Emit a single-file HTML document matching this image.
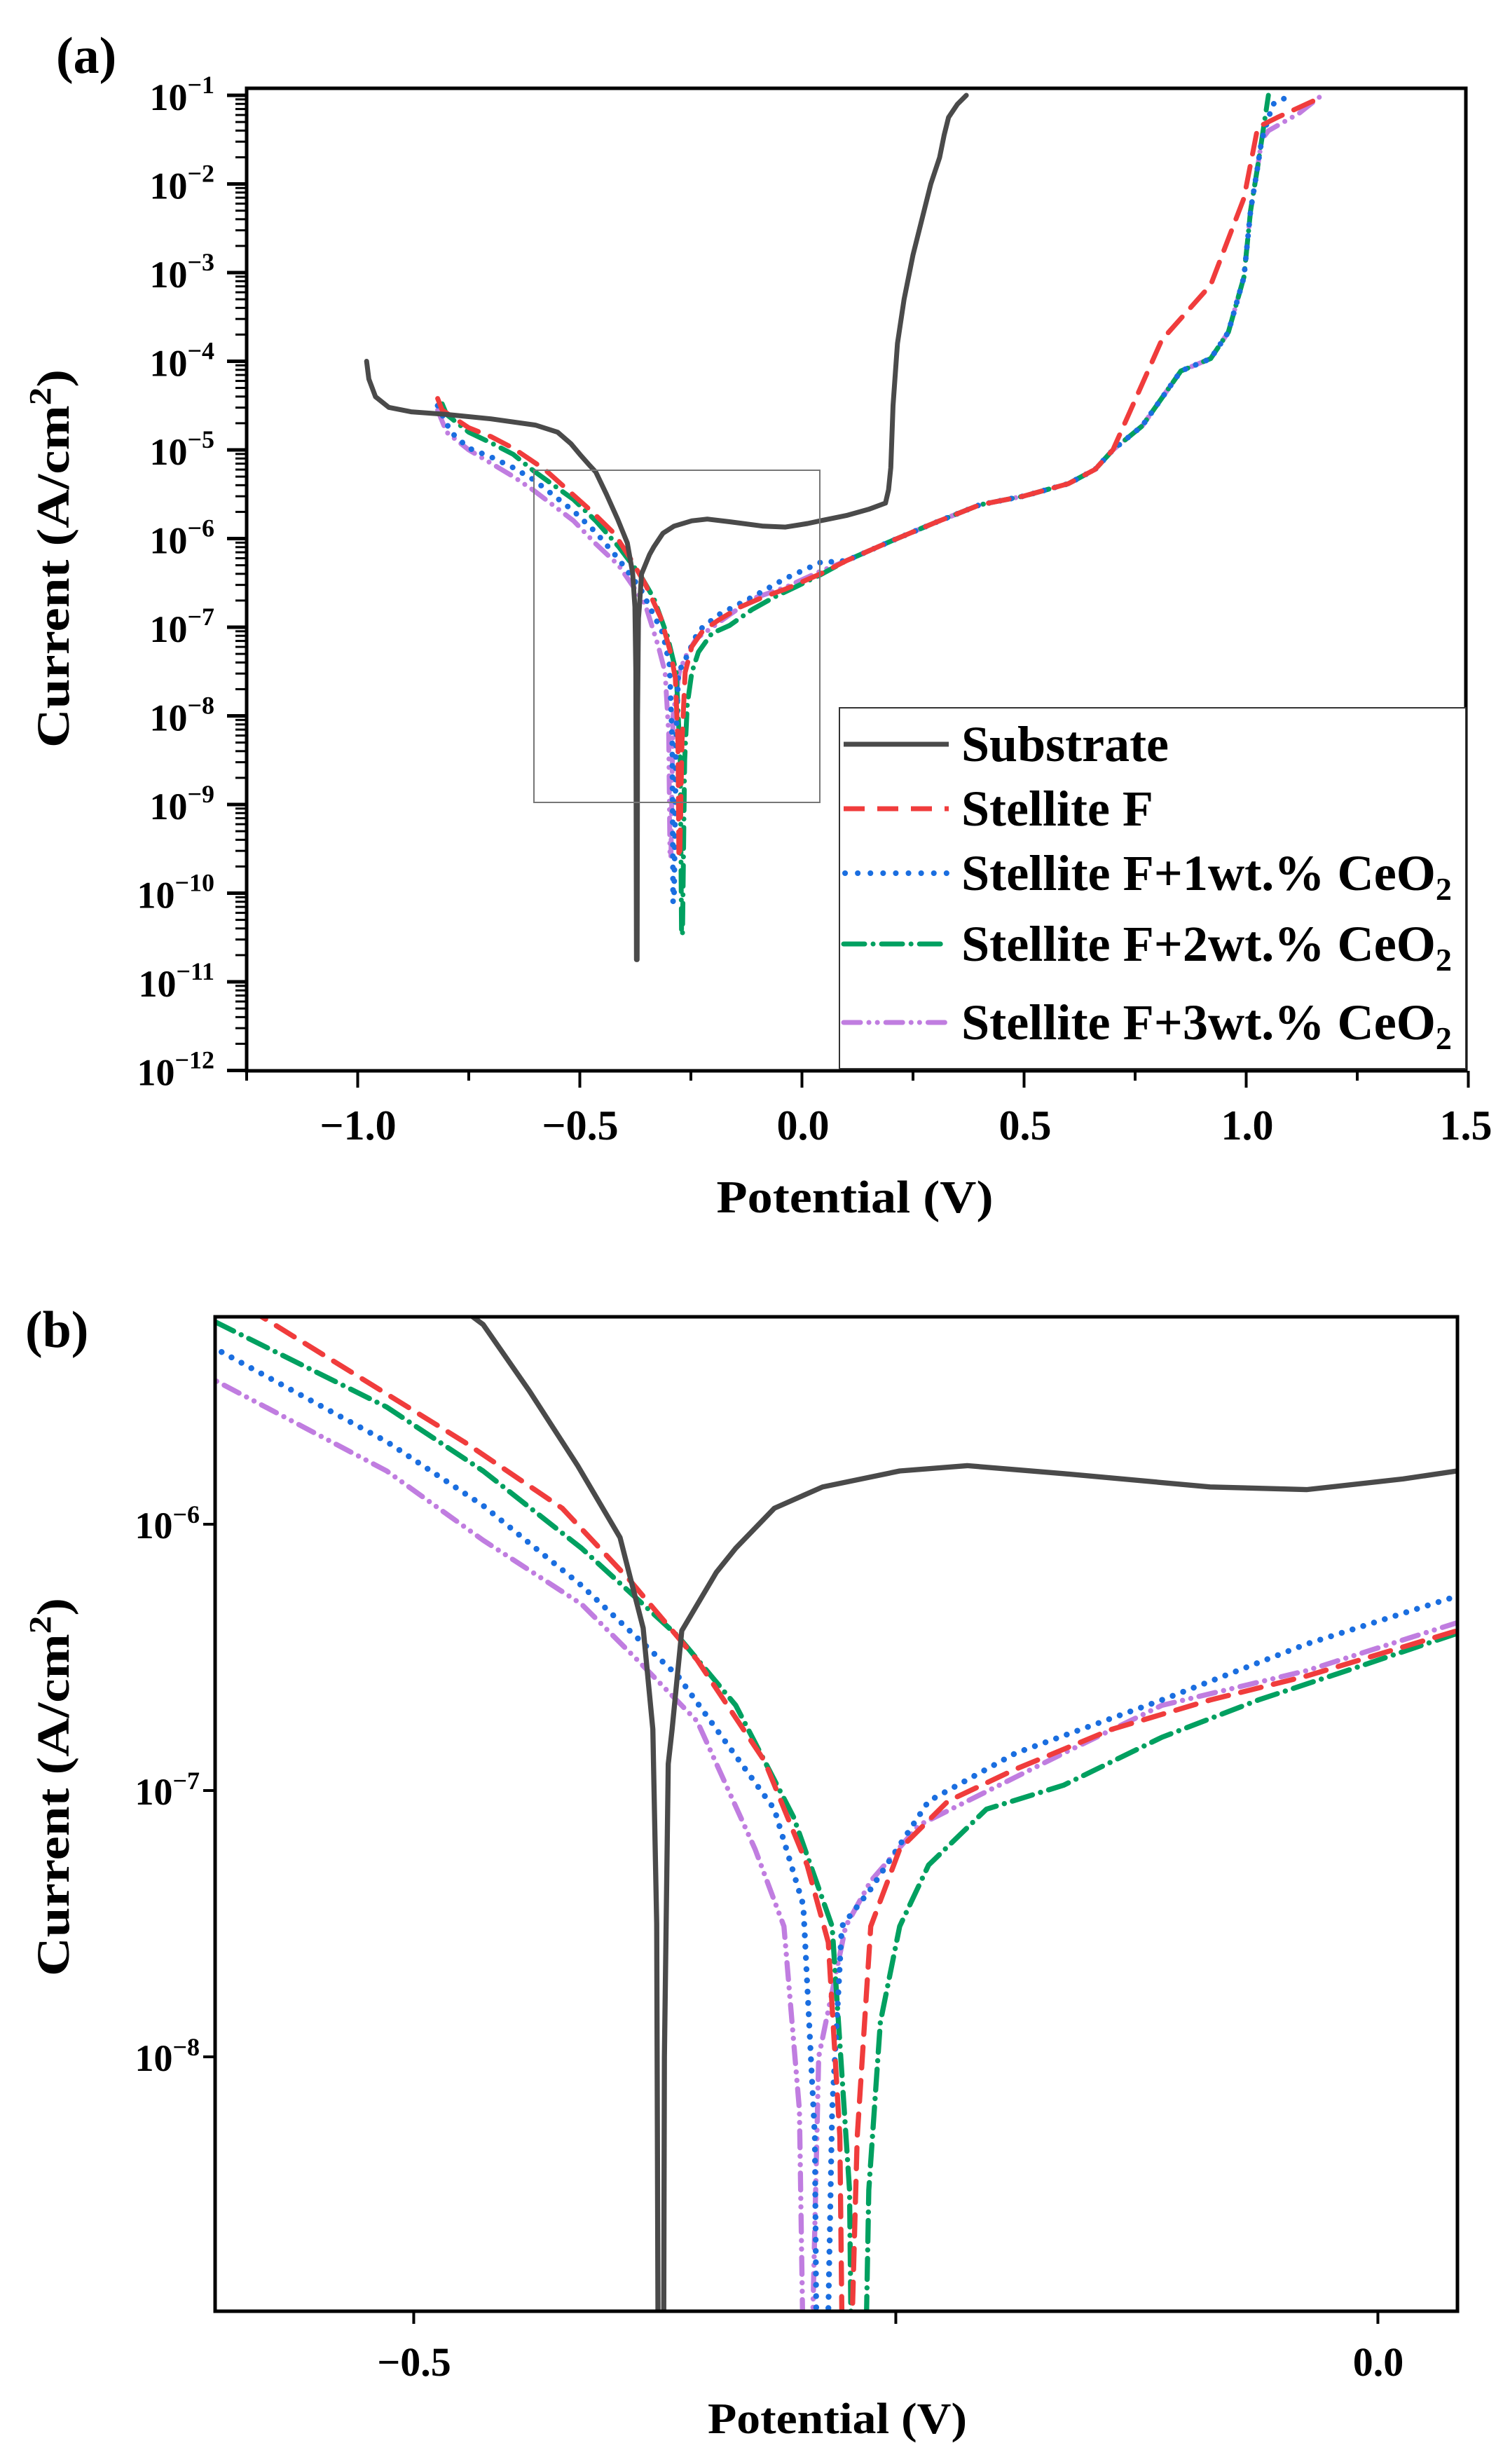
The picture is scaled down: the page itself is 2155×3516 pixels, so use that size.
<!DOCTYPE html>
<html><head><meta charset="utf-8"><style>
html,body{margin:0;padding:0;background:#fff;width:2155px;height:3516px;overflow:hidden;}
svg{display:block;font-family:"Liberation Serif",serif;font-weight:bold;}
</style></head><body>
<svg id="s" width="2155" height="3516" viewBox="0 0 2155 3516" xmlns="http://www.w3.org/2000/svg">
<rect width="2155" height="3516" fill="#fff"/>
<defs>
<clipPath id="ca"><rect x="352" y="126" width="1740" height="1402"/></clipPath>
<clipPath id="cb"><rect x="307" y="1879" width="1773" height="1419"/></clipPath>
</defs>
<text x="80" y="104" font-size="74">(a)</text>
<text x="36" y="1922" font-size="74">(b)</text>
<g id="ga" clip-path="url(#ca)"></g>
<g id="gb" clip-path="url(#cb)"></g>
<g id="ticks"></g>
<rect x="762" y="671" width="408" height="474" fill="none" stroke="#777" stroke-width="2"/>
<rect x="352" y="126" width="1740" height="1402" fill="none" stroke="#000" stroke-width="5"/>
<rect x="307" y="1879" width="1773" height="1419" fill="none" stroke="#000" stroke-width="5"/>
<g font-size="54" text-anchor="end" id="yla"></g>
<g font-size="60" text-anchor="middle">
<text x="511" y="1626">−1.0</text><text x="828" y="1626">−0.5</text><text x="1146" y="1626">0.0</text>
<text x="1463" y="1626">0.5</text><text x="1780" y="1626">1.0</text><text x="2092" y="1626">1.5</text>
<text x="591" y="3390" font-size="58">−0.5</text><text x="1967" y="3390" font-size="58">0.0</text>
</g>
<text x="1220" y="1730" font-size="66" text-anchor="middle" textLength="395" lengthAdjust="spacingAndGlyphs">Potential (V)</text>
<text x="1195" y="3472" font-size="62" text-anchor="middle" textLength="370" lengthAdjust="spacingAndGlyphs">Potential (V)</text>
<text transform="translate(98,797) rotate(-90)" font-size="66" text-anchor="middle" textLength="540" lengthAdjust="spacingAndGlyphs">Current (A/cm<tspan font-size="44" dy="-26">2</tspan><tspan dy="26">)</tspan></text>
<text transform="translate(98,2550) rotate(-90)" font-size="66" text-anchor="middle" textLength="540" lengthAdjust="spacingAndGlyphs">Current (A/cm<tspan font-size="44" dy="-26">2</tspan><tspan dy="26">)</tspan></text>
<rect x="1198" y="1010" width="894" height="515" fill="#fff" stroke="#333" stroke-width="2"/>
<g stroke-width="7" fill="none">
<line x1="1204" y1="1062" x2="1354" y2="1062" stroke="#4a4a4a"/>
<line x1="1204" y1="1154" x2="1354" y2="1154" stroke="#f03c3c" stroke-dasharray="30 18"/>
<line x1="1206" y1="1246" x2="1354" y2="1246" stroke="#1a6ee0" stroke-dasharray="0.1 18" stroke-linecap="round" stroke-width="8"/>
<line x1="1204" y1="1347" x2="1354" y2="1347" stroke="#00a060" stroke-dasharray="30 12 0.1 12" stroke-linecap="round"/>
<line x1="1204" y1="1459" x2="1354" y2="1459" stroke="#c07de0" stroke-dasharray="24 12 0.1 12 0.1 12" stroke-linecap="round"/>
</g>
<g font-size="72">
<text x="1372" y="1086">Substrate</text>
<text x="1372" y="1178">Stellite F</text>
<text x="1372" y="1270" textLength="700" lengthAdjust="spacingAndGlyphs">Stellite F+1wt.% CeO<tspan font-size="46" dy="14">2</tspan></text>
<text x="1372" y="1371" textLength="700" lengthAdjust="spacingAndGlyphs">Stellite F+2wt.% CeO<tspan font-size="46" dy="14">2</tspan></text>
<text x="1372" y="1483" textLength="700" lengthAdjust="spacingAndGlyphs">Stellite F+3wt.% CeO<tspan font-size="46" dy="14">2</tspan></text>
</g>
</svg>
<script>
var NS="http://www.w3.org/2000/svg";
function el(p,t,a,txt){var e=document.createElementNS(NS,t);for(var k in a)e.setAttribute(k,a[k]);if(txt!=null)e.textContent=txt;p.appendChild(e);return e;}
var A={X:function(v){return 352+(v+1.25)*634;},Y:function(l){return 136+(-1-l)*126.5;}};
var B={X:function(v){return 307+(v+0.603)*2752;},Y:function(l){return 2175+(-6-l)*380;}};
var sub=[[-0.98,-4.0],[-0.975,-4.2],[-0.96,-4.4],[-0.93,-4.52],[-0.88,-4.57],[-0.8,-4.6],[-0.7,-4.65],[-0.6,-4.72],[-0.55,-4.8],[-0.52,-4.93],[-0.5,-5.05],[-0.477,-5.18],[-0.464,-5.25],[-0.44,-5.5],[-0.415,-5.78],[-0.393,-6.05],[-0.381,-6.39],[-0.376,-6.77],[-0.374,-7.5],[-0.3725,-10.75],[-0.371,-10.75],[-0.370,-8.0],[-0.368,-6.9],[-0.366,-6.77],[-0.361,-6.4],[-0.343,-6.18],[-0.333,-6.09],[-0.313,-5.94],[-0.288,-5.86],[-0.248,-5.8],[-0.213,-5.78],[-0.163,-5.81],[-0.087,-5.86],[-0.037,-5.87],[0.013,-5.83],[0.041,-5.80],[0.1,-5.74],[0.15,-5.67],[0.188,-5.6],[0.195,-5.45],[0.2,-5.2],[0.205,-4.5],[0.215,-3.8],[0.23,-3.3],[0.25,-2.8],[0.27,-2.4],[0.29,-2.0],[0.31,-1.7],[0.32,-1.45],[0.33,-1.25],[0.35,-1.1],[0.37,-1.0]];
var tail=[[0.1,-6.25],[0.2,-6.03],[0.3,-5.82],[0.4,-5.62],[0.5,-5.52],[0.6,-5.38],[0.66,-5.22],[0.7,-5.0]];
var red=[[-0.82,-4.42],[-0.81,-4.55],[-0.75,-4.75],[-0.7,-4.85],[-0.65,-4.98],[-0.579,-5.22],[-0.474,-5.69],[-0.423,-5.94],[-0.388,-6.21],[-0.353,-6.51],[-0.318,-6.89],[-0.296,-7.28],[-0.285,-7.57],[-0.279,-8.3],[-0.277,-9.6],[-0.275,-9.6],[-0.27,-8.3],[-0.263,-7.51],[-0.248,-7.22],[-0.223,-7.04],[-0.188,-6.92],[-0.138,-6.77],[-0.087,-6.66],[-0.037,-6.57],[0.041,-6.40]].concat(tail).concat([[0.81,-3.76],[0.92,-3.14],[0.995,-2.16],[1.026,-1.36],[1.07,-1.25],[1.157,-1.05]]);
var rt=[[0.766,-4.73],[0.853,-4.11],[0.92,-3.97],[0.96,-3.67],[0.995,-3.05],[1.01,-2.3],[1.026,-1.8],[1.035,-1.5]];
var green=[[-0.81,-4.48],[-0.8,-4.6],[-0.75,-4.8],[-0.7,-4.92],[-0.65,-5.05],[-0.603,-5.24],[-0.514,-5.56],[-0.464,-5.80],[-0.413,-6.09],[-0.363,-6.42],[-0.333,-6.68],[-0.303,-7.10],[-0.283,-7.51],[-0.274,-8.5],[-0.271,-10.47],[-0.269,-10.47],[-0.264,-8.5],[-0.258,-7.87],[-0.248,-7.51],[-0.233,-7.28],[-0.203,-7.07],[-0.163,-6.98],[-0.112,-6.80],[-0.062,-6.66],[-0.012,-6.54],[0.041,-6.41]].concat(tail).concat(rt).concat([[1.05,-1.0]]);
var blue=[[-0.82,-4.5],[-0.79,-4.8],[-0.75,-4.98],[-0.7,-5.08],[-0.65,-5.2],[-0.603,-5.34],[-0.514,-5.69],[-0.464,-5.93],[-0.413,-6.23],[-0.363,-6.57],[-0.313,-7.07],[-0.298,-7.43],[-0.292,-8.3],[-0.29,-10.1],[-0.288,-10.1],[-0.283,-8.2],[-0.278,-7.51],[-0.263,-7.37],[-0.233,-7.04],[-0.188,-6.86],[-0.112,-6.66],[-0.037,-6.45],[0.041,-6.27]].concat(tail).concat(rt).concat([[1.06,-1.1],[1.1,-1.0]]);
var purple=[[-0.82,-4.55],[-0.8,-4.8],[-0.75,-5.0],[-0.7,-5.15],[-0.65,-5.3],[-0.603,-5.46],[-0.514,-5.80],[-0.464,-6.06],[-0.413,-6.30],[-0.384,-6.51],[-0.353,-6.74],[-0.323,-7.22],[-0.308,-7.51],[-0.3,-8.2],[-0.297,-9.6],[-0.295,-9.6],[-0.29,-8.0],[-0.276,-7.51],[-0.263,-7.34],[-0.238,-7.13],[-0.213,-7.04],[-0.163,-6.86],[-0.112,-6.68],[-0.037,-6.55],[0.041,-6.37]].concat(tail).concat(rt).concat([[1.05,-1.4],[1.12,-1.2],[1.17,-1.0]]);
var series=[[purple,"#c07de0","24 12 0.1 12 0.1 12",7],[green,"#00a060","30 12 0.1 12",7],[blue,"#1a6ee0","0.1 16",8],[red,"#f03c3c","30 18",7],[sub,"#4a4a4a","",7]];
function draw(g,M,sc){
 series.forEach(function(s){
  var d=s[0].map(function(p,i){return (i?"L":"M")+M.X(p[0]).toFixed(1)+" "+M.Y(p[1]).toFixed(1);}).join("");
  var a={d:d,fill:"none",stroke:s[1],"stroke-width":s[3]*sc,"stroke-linejoin":"round","stroke-linecap":"round"};
  if(s[2])a["stroke-dasharray"]=s[2];
  el(g,"path",a);
 });
}
draw(document.getElementById("ga"),A,1);
draw(document.getElementById("gb"),B,1.05);
var t=document.getElementById("ticks");
function ln(x1,y1,x2,y2,w){el(t,"line",{x1:x1,y1:y1,x2:x2,y2:y2,stroke:"#000","stroke-width":w||4});}
for(var d=-12;d<=-1;d++){var y=A.Y(d);ln(324,y,352,y,5);
 if(d<-1)for(var k=2;k<=9;k++){var yy=A.Y(d+Math.log10(k));ln(336,yy,352,yy,3);}}
for(var v=-1.25;v<=1.51;v+=0.25){var x=A.X(v);var maj=Math.abs(Math.round(v*2)-v*2)<1e-6;ln(x,1528,x,maj?1552:1542,4);}
[-6,-7,-8].forEach(function(d){var y=B.Y(d);ln(290,y,307,y,4);});
[-0.5,-0.25,0].forEach(function(v){var x=B.X(v);ln(x,3298,x,3316,4);});
var yl=document.getElementById("yla");
for(var d=-1;d>=-12;d--){var y=A.Y(d);var tx=el(yl,"text",{x:306,y:y+21});
 el(tx,"tspan",{},"10");el(tx,"tspan",{"font-size":"36",dy:"-24"},"−"+(-d));}
[-6,-7,-8].forEach(function(d){var y=B.Y(d);var tx=el(yl,"text",{x:285,y:y+20,"font-size":"54"});
 el(tx,"tspan",{},"10");el(tx,"tspan",{"font-size":"36",dy:"-22"},"−"+(-d));});
</script>
</body></html>
